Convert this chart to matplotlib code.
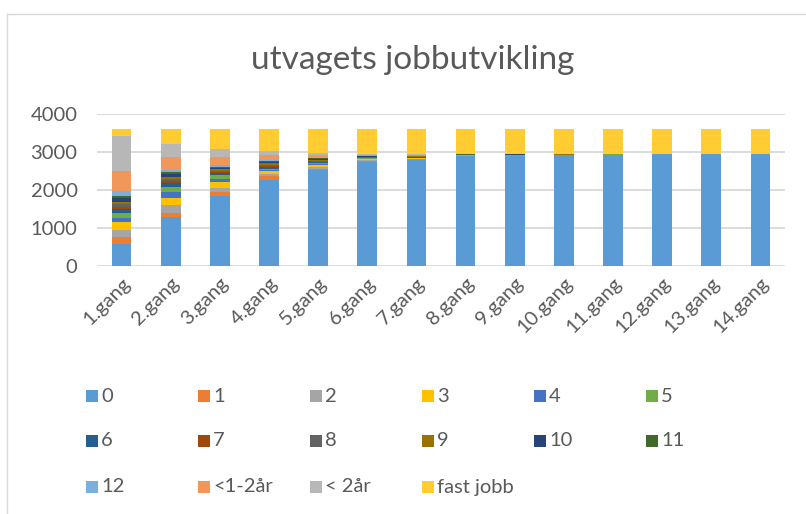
import matplotlib
matplotlib.use("Agg")
import matplotlib.pyplot as plt
from matplotlib.patches import Rectangle
from matplotlib.lines import Line2D
import numpy as np

plt.rcParams['font.family'] = ['Lato', 'DejaVu Sans']

categories = ["1.gang", "2.gang", "3.gang", "4.gang", "5.gang", "6.gang", "7.gang",
              "8.gang", "9.gang", "10.gang", "11.gang", "12.gang", "13.gang", "14.gang"]

s0 = [590, 1280, 1835, 2270, 2525, 2735, 2800, 2900, 2905, 2915, 2925, 2935, 2940, 2950]
s1 = [185, 105, 115, 90, 25, 25, 15, 5, 5, 4, 3, 3, 2, 2]
s2 = [180, 210, 105, 55, 50, 18, 10, 3, 3, 2, 2, 2, 1, 1]
s3 = [190, 200, 150, 80, 60, 25, 15, 5, 4, 3, 3, 2, 2, 1]
s4 = [125, 140, 95, 25, 25, 10, 5, 2, 2, 1, 1, 1, 1, 0]
s5 = [125, 140, 105, 45, 25, 18, 10, 3, 3, 2, 2, 1, 1, 1]
s6 = [95, 105, 35, 35, 20, 10, 5, 2, 2, 1, 1, 1, 1, 0]
s7 = [65, 60, 35, 35, 20, 10, 5, 2, 2, 1, 1, 1, 1, 0]
s8 = [70, 55, 35, 30, 20, 18, 15, 5, 4, 4, 3, 3, 2, 2]
s9 = [65, 60, 35, 35, 20, 10, 10, 3, 3, 2, 2, 1, 1, 1]
s10 = [90, 55, 35, 30, 20, 10, 5, 2, 2, 1, 1, 1, 0, 0]
s11 = [75, 60, 35, 35, 20, 10, 10, 3, 3, 2, 2, 1, 1, 1]
s12 = [115, 45, 35, 35, 25, 10, 5, 2, 2, 1, 1, 1, 0, 0]
s_lt_1_2 = [526, 355, 215, 120, 60, 18, 15, 3, 3, 3, 2, 1, 1, 1]
s_lt_2 = [921, 345, 215, 105, 55, 18, 15, 4, 2, 3, 1, 1, 1, 0]
s_fast = [193, 390, 530, 585, 640, 665, 670, 666, 665, 665, 660, 655, 655, 650]

series_names = ["0", "1", "2", "3", "4", "5", "6", "7", "8", "9", "10", "11", "12",
                "<1-2år", "< 2år", "fast jobb"]
series_values = [s0, s1, s2, s3, s4, s5, s6, s7, s8, s9, s10, s11, s12,
                 s_lt_1_2, s_lt_2, s_fast]
colors = ["#5B9BD5", "#ED7D31", "#A5A5A5", "#FFC000", "#4472C4", "#70AD47",
          "#255E91", "#9E480E", "#636363", "#997300", "#264478", "#43682B",
          "#7CAFDD", "#F1975A", "#B7B7B7", "#FFCD33"]

W, H = 806, 514
fig = plt.figure(figsize=(W / 100, H / 100), dpi=100)

# chart border
fig.add_artist(Line2D([7 / W, 1.0], [1 - 14 / H, 1 - 14 / H], color="#d9d9d9", lw=1.0))
fig.add_artist(Line2D([7 / W, 7 / W], [0, 1 - 14 / H], color="#d9d9d9", lw=1.0))

ax = fig.add_axes([97 / W, 1 - 266 / H, (785 - 97) / W, (266 - 114) / H])
x = np.arange(len(categories))
bottom = np.zeros(len(categories))
for name, vals, c in zip(series_names, series_values, colors):
    v = np.array(vals, dtype=float)
    ax.bar(x, v, width=0.4, bottom=bottom, color=c, label=name, zorder=3)
    bottom += v

ax.set_ylim(0, 4000)
ax.set_xlim(-0.5, len(categories) - 0.5)
ax.set_yticks([0, 1000, 2000, 3000, 4000])
ax.yaxis.grid(True, color="#d9d9d9", lw=1.3, zorder=0)
for s in ax.spines.values():
    s.set_visible(False)
ax.tick_params(axis="both", length=0, labelsize=14.5, colors="#595959")
ax.tick_params(axis="y", pad=14)
ax.set_xticks(x)
ax.set_xticklabels(categories, rotation=45, ha="right", rotation_mode="anchor")
ax.tick_params(axis="x", pad=6)

fig.text(413 / W, 1 - 60 / H, "utvagets jobbutvikling", ha="center", va="center",
         fontsize=24, color="#595959")

# legend laid out like Excel (row-major, 6 per row)
col_x = [86 + 112 * i for i in range(6)]
row_y = [396, 441, 487]
sq = 12
for i, (name, c) in enumerate(zip(series_names, colors)):
    r, cc = divmod(i, 6)
    lx, ly = col_x[cc], row_y[r]
    fig.add_artist(Rectangle((lx / W, 1 - (ly + sq / 2) / H), sq / W, sq / H,
                             transform=fig.transFigure, color=c, lw=0))
    fig.text((lx + sq + 3) / W, 1 - ly / H, name, ha="left", va="center",
             fontsize=14.5, color="#595959")

fig.savefig("out.png", dpi=100)
